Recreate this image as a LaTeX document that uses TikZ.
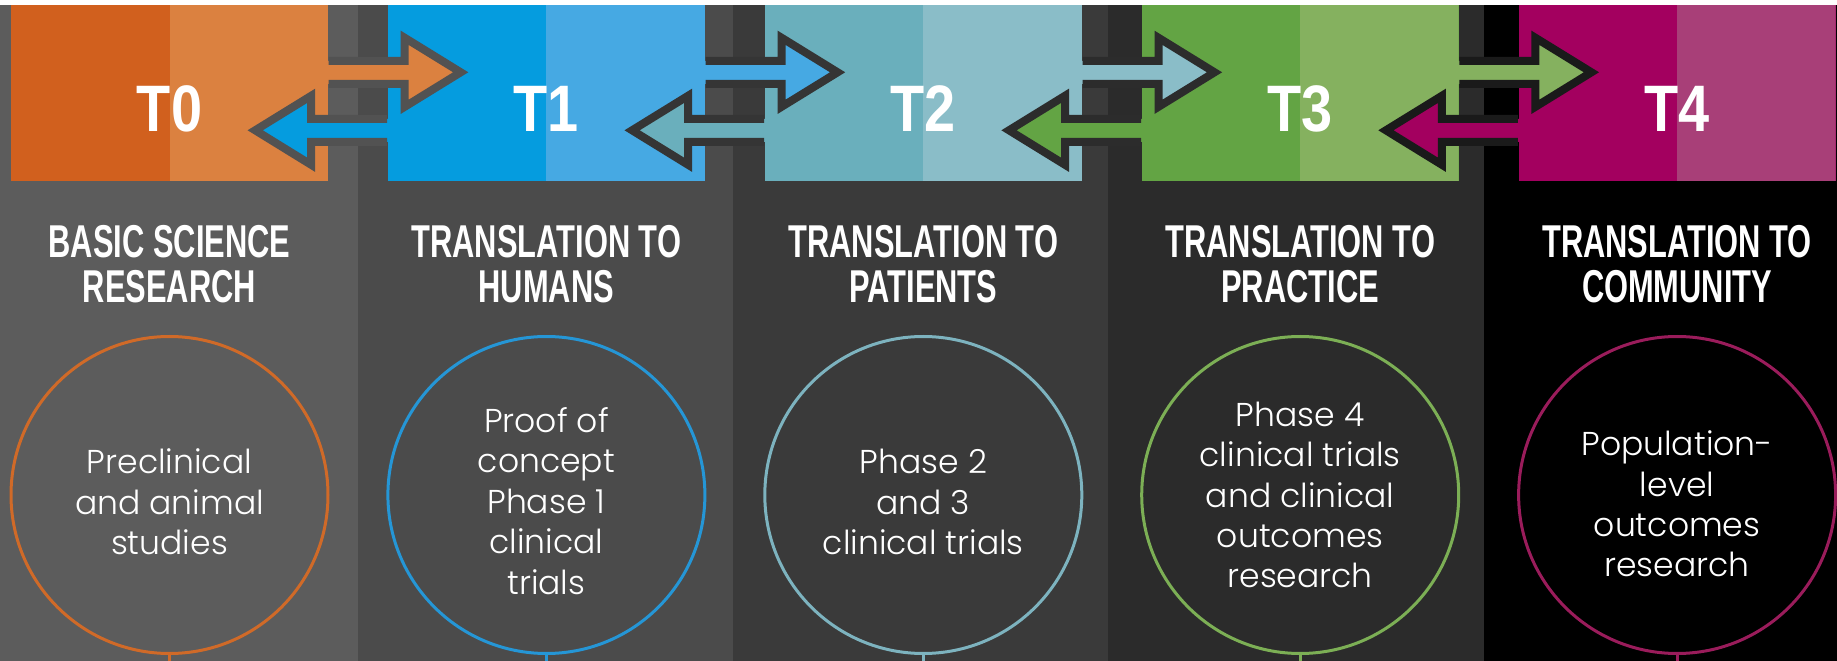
\documentclass[tikz,border=0pt]{standalone}
\usepackage{fontspec}
\setmainfont{Poppins}[UprightFont=* Light]
\newfontfamily\headfont[FakeStretch=0.67]{Liberation Sans}
\newfontfamily\tagfont[FakeStretch=0.85]{Liberation Sans}
\usetikzlibrary{positioning}

\definecolor{bg0}{HTML}{5C5C5C}
\definecolor{bg1}{HTML}{4B4B4B}
\definecolor{bg2}{HTML}{3A3A3A}
\definecolor{bg3}{HTML}{2B2B2B}
\definecolor{bg4}{HTML}{000000}
\definecolor{rim0}{HTML}{525252}
\definecolor{rim1}{HTML}{353535}
\definecolor{rim2}{HTML}{2C2C2C}
\definecolor{rim3}{HTML}{1A1A1A}
\definecolor{t0dark}{HTML}{D1601E}
\definecolor{t0light}{HTML}{DB8140}
\definecolor{t1dark}{HTML}{059CDF}
\definecolor{t1light}{HTML}{46A9E3}
\definecolor{t2dark}{HTML}{6AAFBC}
\definecolor{t2light}{HTML}{8ABDC8}
\definecolor{t3dark}{HTML}{63A444}
\definecolor{t3light}{HTML}{85B15F}
\definecolor{t4dark}{HTML}{A3005F}
\definecolor{t4light}{HTML}{A83F78}
\definecolor{t0ring}{HTML}{D06A28}
\definecolor{t1ring}{HTML}{2596D6}
\definecolor{t2ring}{HTML}{7DB3BF}
\definecolor{t3ring}{HTML}{7CAF55}
\definecolor{t4ring}{HTML}{9A1C5B}

\tikzset{
  tbox/.style 2 args={fill=#1, inner sep=0pt, minimum width=31.7mm, minimum height=17.6mm,%
    path picture={\fill[#2] (path picture bounding box.north) rectangle (path picture bounding box.south east);}},
  tname/.style={text=white, inner sep=0pt, font=\tagfont\bfseries\fontsize{18.7}{18.7}\selectfont},
  stage/.style={text=white, inner sep=0pt, align=center, font=\headfont\bfseries\fontsize{13.1}{12.8}\selectfont},
  ring/.style={draw=#1, line width=0.3mm, circle, minimum size=31.7mm, inner sep=0pt},
  note/.style={text=white, inner sep=0pt, align=center, font=\fontsize{9.4}{11.5}\selectfont},
  pics/flow/.style 2 args={code={
    \fill[#1] (-2,-11.5) -- (76,-11.5) -- (76,-34.5) -- (132,0) -- (76,34.5) -- (76,11.5) -- (-2,11.5) -- cycle;
    \draw[#2, line width=0.8mm] (0,-11.5) -- (76,-11.5) -- (76,-34.5) -- (132,0) -- (76,34.5) -- (76,11.5) -- (0,11.5);
  }},
}

\begin{document}
\begin{tikzpicture}[x=0.1mm, y=-0.1mm]
\useasboundingbox (0,0) rectangle (1837,661);
\fill[white] (0,0) rectangle (1837,661);

% column bands
\fill[bg0] (0,5) rectangle (358,661);
\fill[bg1] (358,5) rectangle (733,661);
\fill[bg2] (733,5) rectangle (1108,661);
\fill[bg3] (1108,5) rectangle (1484,661);
\fill[bg4] (1484,5) rectangle (1837,661);

\node[tbox={t0dark}{t0light}] (t0) at (169.5,93) {};
\node[tbox={t1dark}{t1light}, right=5.85mm of t0] (t1) {};
\node[tbox={t2dark}{t2light}, right=5.85mm of t1] (t2) {};
\node[tbox={t3dark}{t3light}, right=5.85mm of t2] (t3) {};
\node[tbox={t4dark}{t4light}, right=5.85mm of t3] (t4) {};

% arrows between the stages
\pic at ([yshift=-6.8mm]t0.north east) {flow={t0light}{rim0}};
\pic[xscale=-1] at ([yshift=-12.6mm]t1.north west) {flow={t1dark}{rim0}};
\pic at ([yshift=-6.8mm]t1.north east) {flow={t1light}{rim1}};
\pic[xscale=-1] at ([yshift=-12.6mm]t2.north west) {flow={t2dark}{rim1}};
\pic at ([yshift=-6.8mm]t2.north east) {flow={t2light}{rim2}};
\pic[xscale=-1] at ([yshift=-12.6mm]t3.north west) {flow={t3dark}{rim2}};
\pic at ([yshift=-6.8mm]t3.north east) {flow={t3light}{rim3}};
\pic[xscale=-1] at ([yshift=-12.6mm]t4.north west) {flow={t4dark}{rim3}};

\node[tname] (l0) at ([yshift=-1.55mm]t0.center) {T0};
\node[tname] (l1) at ([yshift=-1.55mm]t1.center) {T1};
\node[tname] (l2) at ([yshift=-1.55mm]t2.center) {T2};
\node[tname] (l3) at ([yshift=-1.55mm]t3.center) {T3};
\node[tname] (l4) at ([yshift=-1.55mm]t4.center) {T4};

\coordinate (hrow) at (0,264);
\coordinate (crow) at (0,495);
\coordinate (bot) at (0,661);

\node[stage] (h0) at (t0 |- hrow) {BASIC SCIENCE\\RESEARCH};
\node[stage] (h1) at (t1 |- hrow) {TRANSLATION TO\\HUMANS};
\node[stage] (h2) at (t2 |- hrow) {TRANSLATION TO\\PATIENTS};
\node[stage] (h3) at (t3 |- hrow) {TRANSLATION TO\\PRACTICE};
\node[stage] (h4) at (t4 |- hrow) {TRANSLATION TO\\COMMUNITY};

\node[ring=t0ring] (c0) at (t0 |- crow) {};
\node[ring=t1ring] (c1) at (t1 |- crow) {};
\node[ring=t2ring] (c2) at (t2 |- crow) {};
\node[ring=t3ring] (c3) at (t3 |- crow) {};
\node[ring=t4ring] (c4) at (t4 |- crow) {};

\node[note] (n0) at ([yshift=-0.7mm]c0.center) {Preclinical\\and animal\\studies};
\node[note] (n1) at ([yshift=-0.6mm]c1.center) {Proof of\\concept\\Phase 1\\clinical\\trials};
\node[note] (n2) at ([yshift=-0.7mm]c2.center) {Phase 2\\and 3\\clinical trials};
\node[note] (n3) at (c3.center) {Phase 4\\clinical trials\\and clinical\\outcomes\\research};
\node[note] (n4) at ([yshift=-0.9mm]c4.center) {Population-\\level\\outcomes\\research};

\draw[t0ring, line width=0.3mm] (c0.south) -- (c0.south |- bot);
\draw[t1ring, line width=0.3mm] (c1.south) -- (c1.south |- bot);
\draw[t2ring, line width=0.3mm] (c2.south) -- (c2.south |- bot);
\draw[t3ring, line width=0.3mm] (c3.south) -- (c3.south |- bot);
\draw[t4ring, line width=0.3mm] (c4.south) -- (c4.south |- bot);
\end{tikzpicture}
\end{document}
